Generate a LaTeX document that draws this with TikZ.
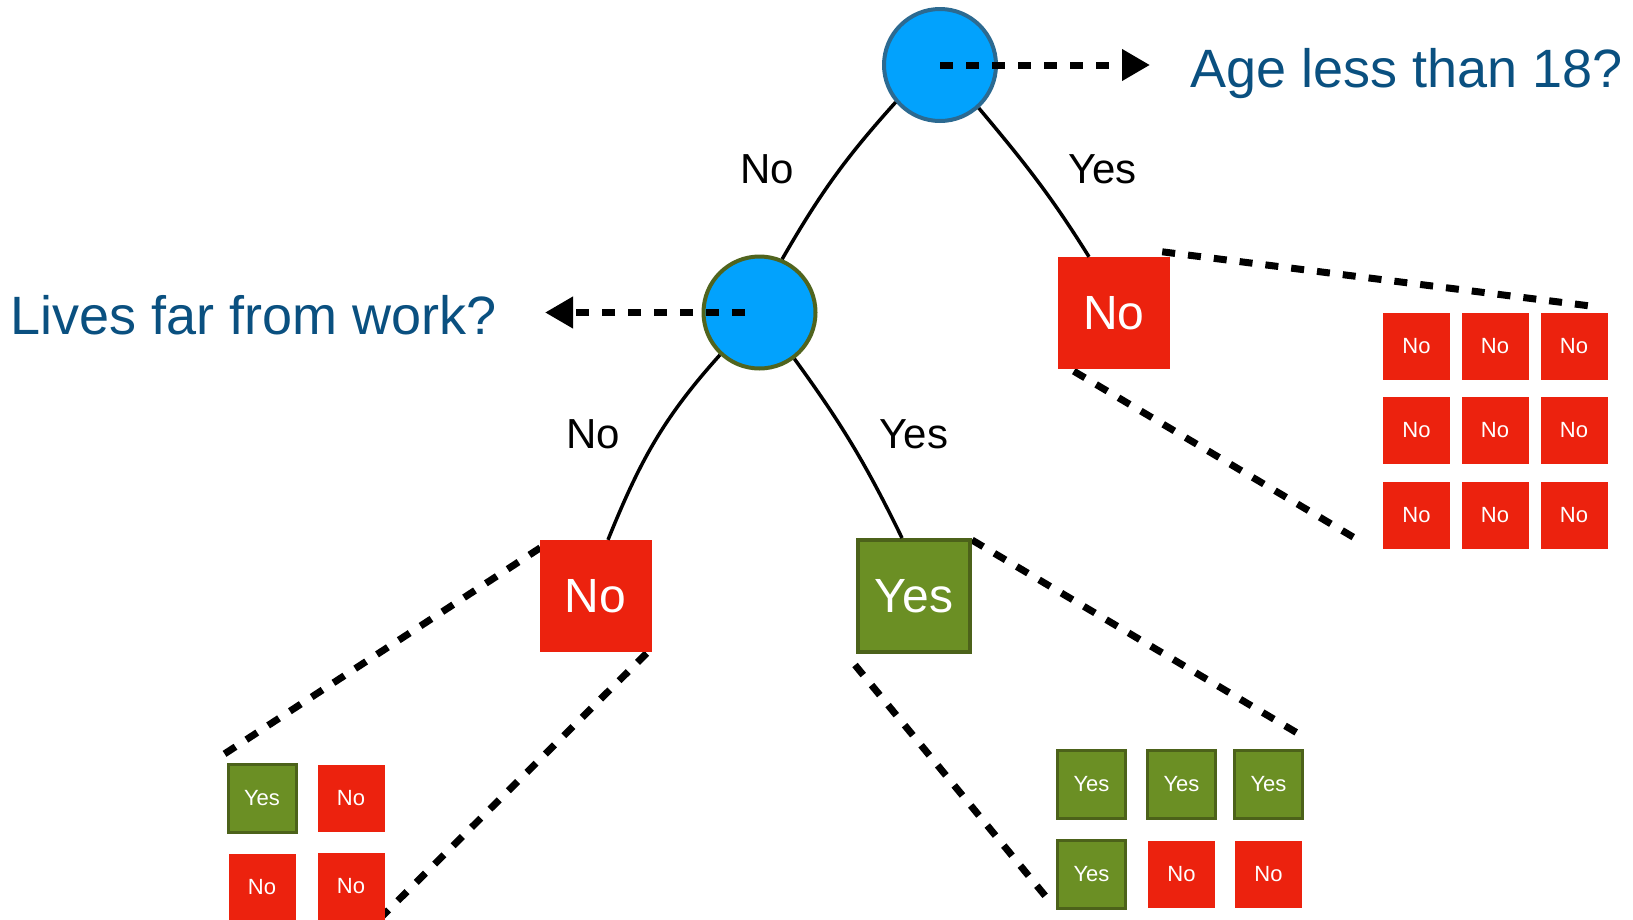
\documentclass[tikz,border=0pt]{standalone}
\usepackage{fontspec}
\setmainfont{Liberation Sans}
\usetikzlibrary{arrows.meta}
\pgfdeclarelayer{bg}
\pgfsetlayers{bg,main}

\definecolor{nodeblue}{RGB}{2,162,253}
\definecolor{rootedge}{RGB}{44,106,145}
\definecolor{qedge}{RGB}{80,100,30}
\definecolor{nored}{RGB}{236,34,14}
\definecolor{yesgreen}{RGB}{107,143,36}
\definecolor{yesedge}{RGB}{76,98,26}
\definecolor{qblue}{RGB}{10,80,128}

\begin{document}
\begin{tikzpicture}[x=1pt,y=1pt,
  decision/.style={circle, minimum size=112pt, inner sep=0pt, line width=4pt, fill=nodeblue},
  bigno/.style={minimum size=112pt, inner sep=0pt, fill=nored, text=white,
    font=\fontsize{48}{56}\selectfont},
  bigyes/.style={minimum size=112pt, inner sep=0pt, fill=yesgreen, draw=yesedge,
    line width=4pt, text=white, font=\fontsize{48}{56}\selectfont},
  smallno/.style={minimum size=67pt, inner sep=0pt, fill=nored, text=white,
    font=\fontsize{22}{26}\selectfont},
  smallyes/.style={minimum size=68pt, inner sep=0pt, fill=yesgreen, draw=yesedge,
    line width=3pt, text=white, font=\fontsize{22}{26}\selectfont},
  branch/.style={line width=3.5pt},
  cone/.style={line width=7pt, dash pattern=on 13pt off 13pt},
  qarrow/.style={cone, -{Triangle[length=28pt,width=30pt]}},
  edgelabel/.style={anchor=base, inner sep=0pt, font=\fontsize{42}{48}\selectfont},
  question/.style={anchor=base west, inner sep=0pt, text=qblue,
    font=\fontsize{54}{60}\selectfont}]

\useasboundingbox (0,0) rectangle (1633,-919);

% decision nodes
\node[decision, draw=rootedge] (root) at (940,-65) {};
\node[decision, draw=qedge] (q2) at (759.5,-312.5) {};

% questions
\node[question] (age) at (1190,-87) {Age less than 18?};
\node[question] (lives) at (10,-334) {Lives far from work?};
\coordinate (ageTip) at (1150,-65);
\coordinate (livesTip) at (545,-312.5);
\coordinate (livesStart) at (745,-312.5);

% leaves
\node[bigno] (noA) at (1114,-313) {No};
\node[bigno] (noB) at (595.5,-596) {No};
\node[bigyes] (yesB) at (914,-596) {Yes};

% samples under the right leaf
\foreach \r/\y in {1/-346,2/-430,3/-515}
  \foreach \c/\x in {1/1416.5,2/1495,3/1574}
    \node[smallno] (r\r\c) at (\x,\y) {No};

% samples under the left leaf
\node[smallyes] (l11) at (262,-798) {Yes};
\node[smallno] (l12) at (351,-798) {No};
\node[smallno] (l21) at (262,-887) {No};
\node[smallno] (l22) at (351,-886) {No};

% samples under the middle leaf
\node[smallyes] (y11) at (1091.5,-784.5) {Yes};
\node[smallyes] (y12) at (1181.5,-784.5) {Yes};
\node[smallyes] (y13) at (1268.5,-784.5) {Yes};
\node[smallyes] (y21) at (1091.5,-874) {Yes};
\node[smallno] (y22) at (1181.5,-874) {No};
\node[smallno] (y23) at (1268.5,-874) {No};

% branches
\draw[branch] (root.220) to[out=228,in=60] ([xshift=0pt]q2.67);
\draw[branch] (root.-48) to[out=-50,in=122] ([xshift=-25pt]noA.north);
\draw[branch] (q2.227) to[out=228,in=68] ([xshift=12.5pt]noB.north);
\draw[branch] (q2.-53) to[out=-54,in=116] ([xshift=-12pt]yesB.north);

% branch labels
\node[edgelabel] (lblRootNo) at (767.5,-183) {No};
\node[edgelabel] (lblRootYes) at (1102.5,-183) {Yes};
\node[edgelabel] (lblQNo) at (593.5,-448) {No};
\node[edgelabel] (lblQYes) at (914,-448) {Yes};

% question pointers
\draw[qarrow] (root.center) -- (ageTip);
\draw[qarrow] (livesStart) -- (livesTip);

% zoom-out lines from each leaf to its samples
\begin{pgfonlayer}{bg}
  \draw[cone] ([shift={(-8,5)}]noA.north east) -- ([shift={(-7,5)}]r13.north east);
  \draw[cone] ([shift={(16,-2)}]noA.south west) -- ([shift={(-21,6.5)}]r31.south west);
  \draw[cone] ([shift={(1,-8)}]noB.north west) -- ([shift={(-6,6)}]l11.north west);
  \draw[cone] ([shift={(-5,-1)}]noB.south east) -- ([shift={(-6,0)}]l22.south east);
  \draw[cone] ([shift={(0,-2)}]yesB.north east) -- ([shift={(2.5,10.5)}]y13.north east);
  \draw[cone] ([shift={(-1,-11)}]yesB.south west) -- ([shift={(-4.5,6)}]y21.south west);
\end{pgfonlayer}
\end{tikzpicture}
\end{document}
